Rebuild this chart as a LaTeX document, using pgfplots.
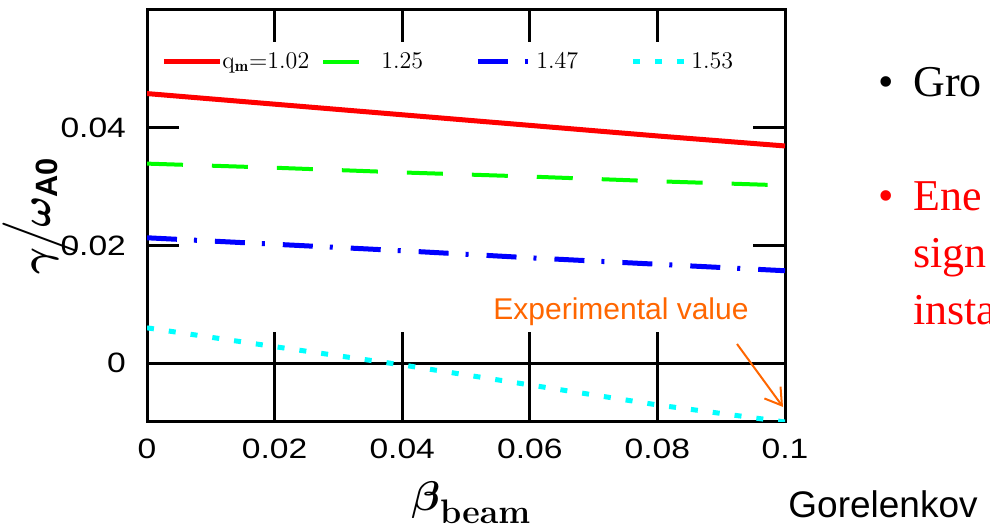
\documentclass[border=0pt]{standalone}
\usepackage{fontspec}
\usepackage{amsmath}
\usepackage{bm}
\usepackage{pgfplots}
\pgfplotsset{compat=1.18}
\usetikzlibrary{arrows.meta}
\newfontfamily\tickfont[FakeStretch=1.2]{Liberation Sans}
\newfontfamily\arial{Liberation Sans}
\newfontfamily\timesfont{Liberation Serif}
\definecolor{orng}{RGB}{255,102,0}
\definecolor{cyn}{RGB}{0,255,255}
\definecolor{grn}{RGB}{0,255,0}
\definecolor{blu}{RGB}{0,0,255}
\definecolor{rd}{RGB}{255,0,0}
\begin{document}
\begin{tikzpicture}
\path[use as bounding box] (0pt,0pt) rectangle (495pt,-264pt);
\clip (0pt,0pt) rectangle (495pt,-264pt);
\begin{axis}[
  scale only axis, width=319pt, height=206pt,
  at={(73.5pt,-211pt)}, anchor=south west,
  xmin=0, xmax=0.1, ymin=-0.01, ymax=0.06,
  xtick={0,0.02,0.04,0.06,0.08,0.1},
  xticklabels={0,0.02,0.04,0.06,0.08,0.1},
  ytick={0,0.02,0.04},
  yticklabels={0,0.02,0.04},
  tick pos=both, ticklabel pos=left,
  tick align=inside, major tick length=16pt,
  axis line style={line width=1.5pt},
  tick style={line width=1.5pt, black},
  ticklabel style={font=\fontsize{14}{14}\selectfont\tickfont},
  xticklabel style={yshift=-5pt},
  yticklabel style={xshift=-7pt},
  legend columns=4,
  legend style={draw=none, fill=none, inner sep=0pt, at={(0.022,0.874)}, anchor=west,
    font=\fontsize{12}{12}\selectfont, nodes={inner sep=0pt}, column sep=0pt},
  /tikz/every even column/.append style={column sep=2.5pt},
]
\draw[line width=1.5pt] (axis cs:0,0) -- (axis cs:0.1,0);
\draw[line width=1.5pt] (axis cs:0.02,-0.01) -- (axis cs:0.02,0.0053);
\draw[line width=1.5pt] (axis cs:0.04,-0.01) -- (axis cs:0.04,0.0053);
\draw[line width=1.5pt] (axis cs:0.06,-0.01) -- (axis cs:0.06,0.0053);
\draw[line width=1.5pt] (axis cs:0.08,-0.01) -- (axis cs:0.08,0.0053);

\addplot[rd, line width=2.5pt,
  legend image code/.code={\draw[rd,line width=2.5pt] (0pt,0pt) -- (28pt,0pt);}]
  coordinates {(0,0.0458)(0.02,0.0440)(0.04,0.0422)(0.06,0.0404)(0.08,0.0386)(0.1,0.0369)};
\addlegendentry{\makebox[47pt][l]{q$_{\mathbf{m}}$=1.02}}
\addplot[grn, line width=2pt, dash pattern=on 18pt off 14.5pt,
  legend image code/.code={\draw[grn,line width=2pt,dash pattern=on 18pt off 14.5pt] (0pt,0pt) -- (28pt,0pt);}]
  coordinates {(0,0.0339)(0.02,0.0332)(0.04,0.0324)(0.06,0.0317)(0.08,0.0309)(0.1,0.0302)};
\addlegendentry{\makebox[44.5pt][l]{1.25}}
\addplot[blu, line width=2.5pt, dash pattern=on 15pt off 8.5pt on 1.5pt off 9pt,
  legend image code/.code={\draw[blu,line width=2.5pt,dash pattern=on 15pt off 8.5pt on 1.5pt off 9pt] (0pt,0pt) -- (28pt,0pt);}]
  coordinates {(0,0.0213)(0.02,0.0202)(0.04,0.0191)(0.06,0.0179)(0.08,0.0168)(0.1,0.0157)};
\addlegendentry{\makebox[44.5pt][l]{1.47}}
\addplot[cyn, line width=2.5pt, dash pattern=on 3.5pt off 7.5pt,
  legend image code/.code={\draw[cyn,line width=2.5pt,dash pattern=on 3.5pt off 7.5pt] (0pt,0pt) -- (28pt,0pt);}]
  coordinates {(0,0.0060)(0.02,0.0028)(0.04,-0.0003)(0.06,-0.0037)(0.08,-0.0071)(0.1,-0.0100)};
\addlegendentry{1.53}
\end{axis}
\begin{scope}[x=0.5pt,y=-0.5pt]
  % y label
  \node[rotate=90] at (40,216) {\fontsize{22}{22}\selectfont$\bm{\gamma}\!\Big/\!\bm{\omega}_{\text{\arial\bfseries A0}}$};
  % x label
  \node[anchor=base west, inner sep=0pt] at (411,510) {\fontsize{20}{20}\selectfont$\bm{\beta}$\raisebox{-6.5pt}{\fontsize{17}{17}\selectfont\bfseries beam}};
  % annotation
  \node[anchor=base west, inner sep=0pt, text=orng] at (493,320) {\arial\fontsize{15}{15}\selectfont Experimental value};
  \draw[orng, line width=1pt, -{Straight Barb[length=8pt,width=10pt]}] (737,344) -- (783,407);
  % slide text
  \node[anchor=base west, inner sep=0pt] at (878,97) {\timesfont\fontsize{22}{22}\selectfont\textbullet};
  \node[anchor=base west, inner sep=0pt] at (913,97) {\timesfont\fontsize{22}{22}\selectfont Gro};
  \node[anchor=base west, inner sep=0pt, text=rd] at (878,211) {\timesfont\fontsize{22}{22}\selectfont\textbullet};
  \node[anchor=base west, inner sep=0pt, text=rd] at (913,211) {\timesfont\fontsize{22}{22}\selectfont Ene};
  \node[anchor=base west, inner sep=0pt, text=rd] at (913,268) {\timesfont\fontsize{22}{22}\selectfont sign};
  \node[anchor=base west, inner sep=0pt, text=rd] at (913,325) {\timesfont\fontsize{22}{22}\selectfont insta};
  \node[anchor=base west, inner sep=0pt] at (788,518) {\arial\fontsize{18.5}{18.5}\selectfont Gorelenkov};
\end{scope}
\end{tikzpicture}
\end{document}
